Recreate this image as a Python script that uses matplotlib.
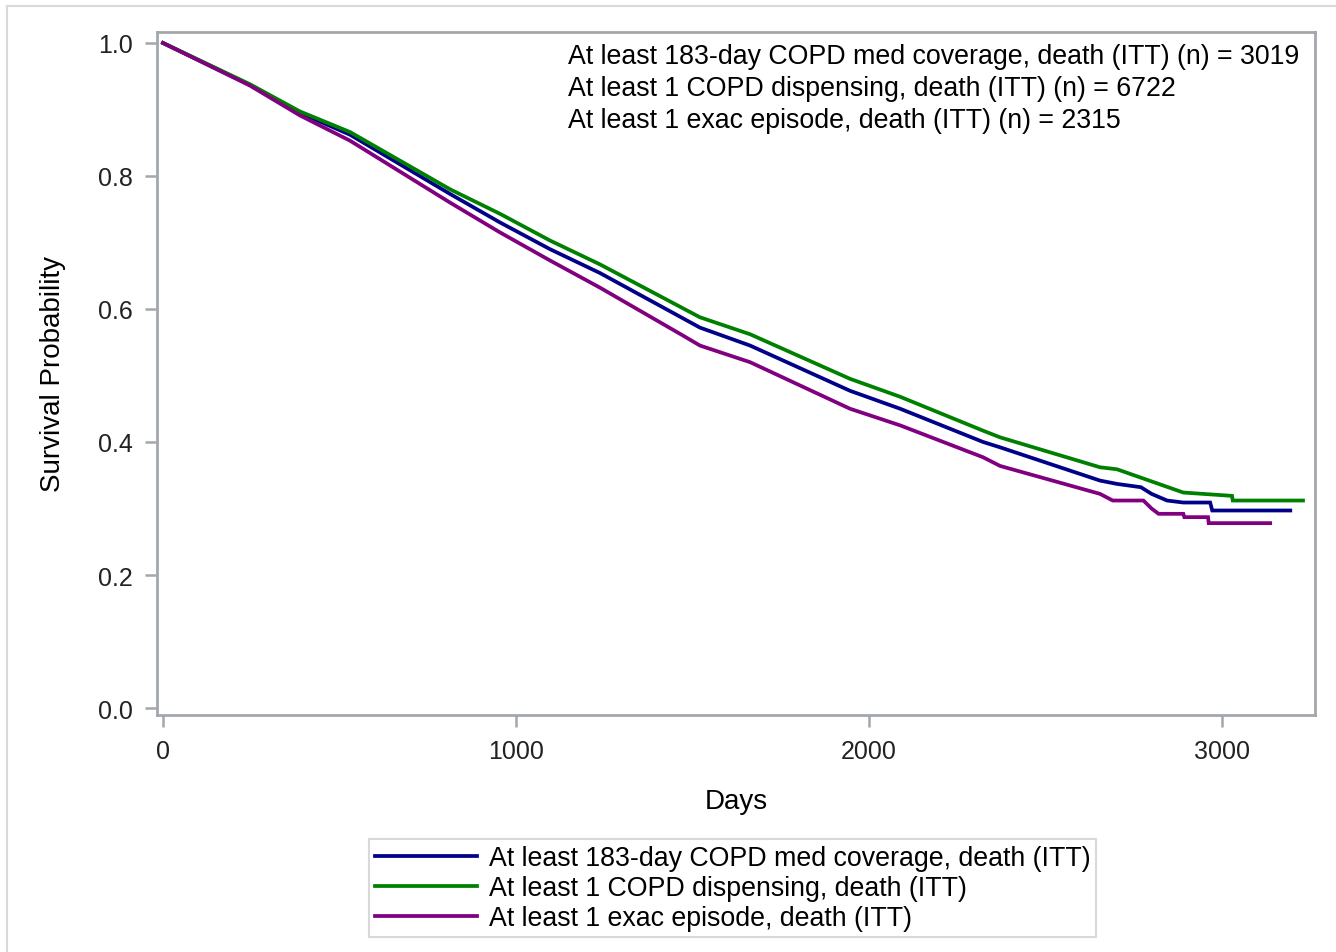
import matplotlib.pyplot as plt
from matplotlib.lines import Line2D

plt.rcParams['font.family'] = ['Liberation Sans', 'DejaVu Sans']

# survival curves (days, probability)
days_cov = [0, 246, 388, 530, 813, 955, 1096, 1238, 1521, 1663, 1946, 2088,
            2323, 2371, 2654, 2702, 2770, 2800, 2844, 2890, 2966, 2972, 3193]
surv_cov = [1.0, 0.937, 0.895, 0.862, 0.773, 0.730, 0.690, 0.654, 0.572, 0.545,
            0.477, 0.450, 0.400, 0.392, 0.342, 0.337, 0.332, 0.322, 0.312,
            0.309, 0.309, 0.297, 0.297]

days_disp = [0, 246, 388, 530, 813, 955, 1096, 1238, 1521, 1663, 1946, 2088,
             2323, 2371, 2654, 2702, 2890, 3028, 3030, 3229]
surv_disp = [1.0, 0.938, 0.897, 0.866, 0.780, 0.743, 0.703, 0.667, 0.5875, 0.562,
             0.495, 0.468, 0.417, 0.407, 0.362, 0.359, 0.324, 0.319, 0.312, 0.312]

days_exac = [0, 246, 388, 530, 813, 955, 1096, 1238, 1473, 1521, 1663, 1946,
             2088, 2323, 2371, 2654, 2690, 2777, 2800, 2820, 2890, 2893, 2960,
             2962, 3136]
surv_exac = [1.0, 0.936, 0.891, 0.853, 0.760, 0.715, 0.673, 0.632, 0.560, 0.545,
             0.520, 0.450, 0.425, 0.377, 0.364, 0.322, 0.312, 0.312, 0.300,
             0.292, 0.292, 0.287, 0.287, 0.278, 0.278]

labels = ["At least 183-day COPD med coverage, death (ITT)",
          "At least 1 COPD dispensing, death (ITT)",
          "At least 1 exac episode, death (ITT)"]
n_counts = [3019, 6722, 2315]
colors = ['#000088', '#008000', '#800080']

grey = '#a3a8ad'

fig = plt.figure(figsize=(13.36, 9.53), dpi=100)
ax = fig.add_axes([157/1336, 1-716/953, (1315-157)/1336, (716-33)/953])

series = [(days_cov, surv_cov), (days_disp, surv_disp), (days_exac, surv_exac)]
for (d, s), c in zip(series, colors):
    ax.plot(d, s, color=c, lw=2.7, solid_joinstyle='miter')

ax.set_xlim(-17, 3263)
ax.set_ylim(-0.0105, 1.0165)
ax.set_xticks([0, 1000, 2000, 3000])
ax.set_yticks([0.0, 0.2, 0.4, 0.6, 0.8, 1.0])
ax.set_yticklabels(['0.0', '0.2', '0.4', '0.6', '0.8', '1.0'])
for sp in ax.spines.values():
    sp.set_color(grey)
    sp.set_linewidth(2)
ax.tick_params(direction='out', length=8.5, width=1.8, color=grey,
               labelsize=18, labelcolor='#222222', pad=9)
ax.tick_params(axis='x', pad=9)

ax.set_xlabel('Days', fontsize=20, labelpad=18)
ax.set_ylabel('Survival Probability', fontsize=20, labelpad=23)

txt = "\n".join(f"{l} (n) = {n}" for l, n in zip(labels, n_counts))
ax.text(0.355, 0.984, txt, transform=ax.transAxes, ha='left', va='top',
        fontsize=19.3, linespacing=1.3)

handles = [Line2D([0], [0], color=c, lw=2.7) for c in colors]
leg = fig.legend(handles, labels, loc='upper left',
                 bbox_to_anchor=(369/1336, 1-840/953), fontsize=19.3,
                 handlelength=3.8, handletextpad=0.45, labelspacing=0.16,
                 borderpad=0.22, borderaxespad=0, fancybox=False, frameon=True)
leg.get_frame().set_edgecolor('#d0d0d0')
leg.get_frame().set_linewidth(1.5)

# light outer border (top and left)
fig.add_artist(Line2D([7/1336, 7/1336], [0, 1-7/953], color='#d8d8d8', lw=1.5,
                      transform=fig.transFigure))
fig.add_artist(Line2D([7/1336, 1], [1-7/953, 1-7/953], color='#d8d8d8', lw=1.5,
                      transform=fig.transFigure))

fig.savefig('out.png', dpi=100)
